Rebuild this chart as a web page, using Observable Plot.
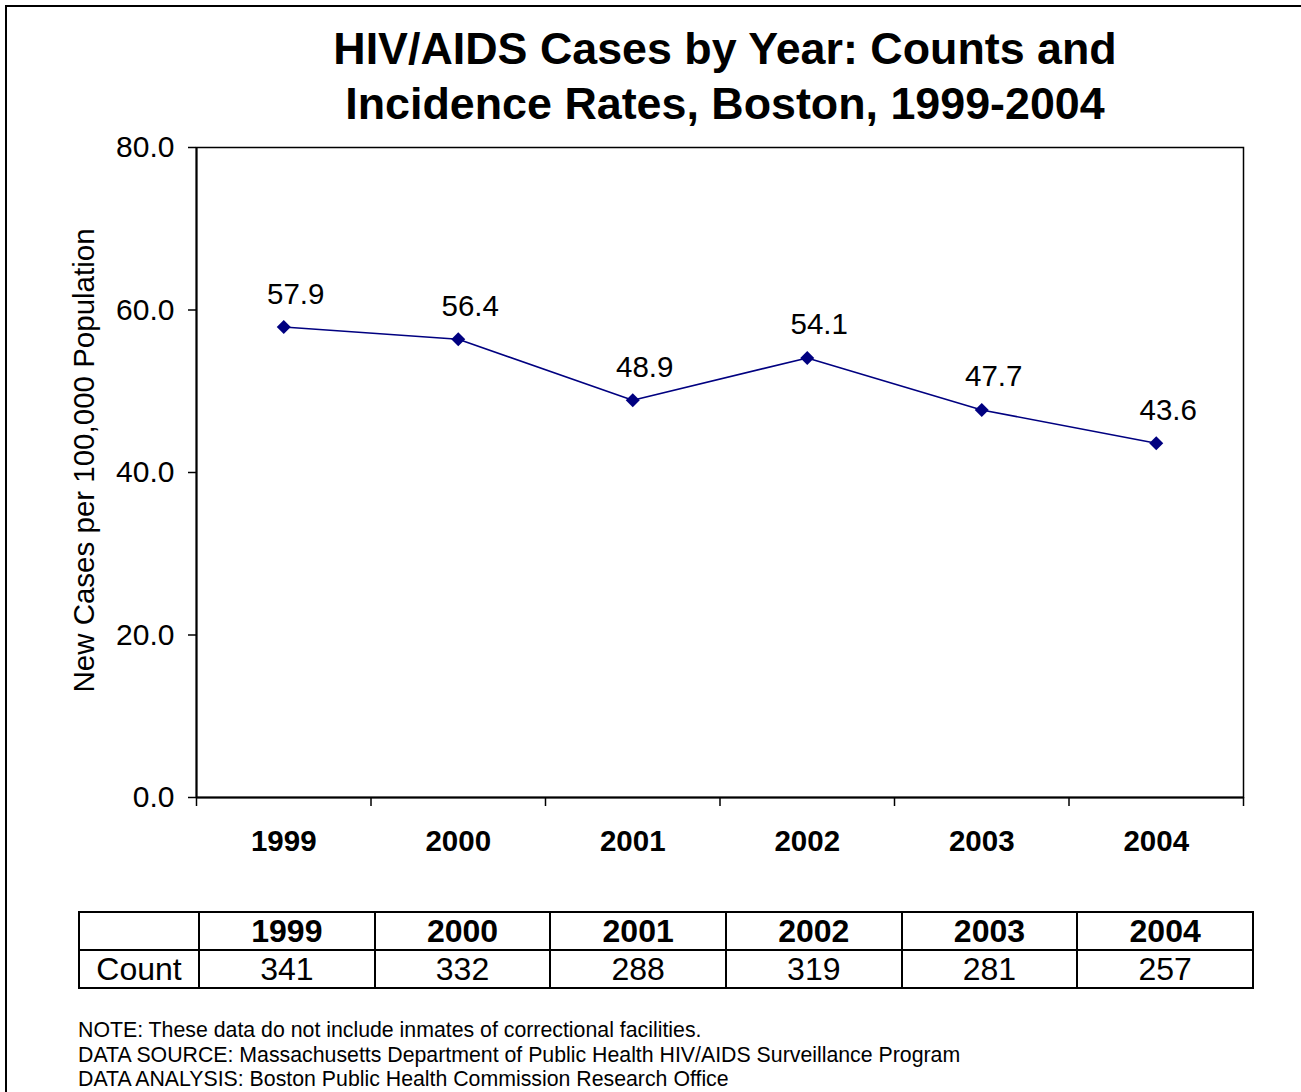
<!DOCTYPE html>
<html>
<head>
<meta charset="utf-8">
<script src="https://cdn.jsdelivr.net/npm/d3@7"></script>
<script src="https://cdn.jsdelivr.net/npm/@observablehq/plot@0.6"></script>
<style>
  html, body { margin: 0; padding: 0; background: #fff; overflow: hidden; width: 1301px; height: 1092px; }
  body { position: relative; font-family: "Liberation Sans", Arial, sans-serif; color: #000; }
  #border { position: absolute; left: 5px; top: 5px; width: 1400px; height: 1200px; border: 2px solid #000; box-sizing: border-box; }
  #title { position: absolute; left: 275px; width: 900px; top: 21px; text-align: center; font-weight: bold; font-size: 44.8px; line-height: 55px; }
  #chart { position: absolute; left: 0; top: 0; }
  #tbl { position: absolute; left: 78px; top: 911px; width: 1176px; border-collapse: collapse; font-size: 32px; table-layout: fixed; }
  #tbl td { border: 2px solid #000; height: 36px; padding: 0; text-align: center; line-height: 36px; }
  #tbl tr.head td { font-weight: bold; }
  #notes { position: absolute; left: 78px; top: 1018px; font-size: 21.3px; line-height: 24.5px; white-space: nowrap; }
</style>
</head>
<body>
<div id="border"></div>
<div id="title">HIV/AIDS Cases by Year: Counts and<br>Incidence Rates, Boston, 1999-2004</div>
<div id="chart"></div>
<table id="tbl"></table>
<div id="notes"></div>
<script>
const years = [1999, 2000, 2001, 2002, 2003, 2004];
const rates = [57.9, 56.4, 48.9, 54.1, 47.7, 43.6];
const counts = [341, 332, 288, 319, 281, 257];
const yTicks = [0, 20, 40, 60, 80];
const yLabel = "New Cases per 100,000 Population";
const rowLabel = "Count";
const notes = [
  "NOTE: These data do not include inmates of correctional facilities.",
  "DATA SOURCE: Massachusetts Department of Public Health HIV/AIDS Surveillance Program",
  "DATA ANALYSIS: Boston Public Health Commission Research Office"
];

const data = years.map((y, i) => ({year: y, rate: rates[i]}));
const boundaries = years.map(y => y - 0.5).concat([years[years.length - 1] + 0.5]);
const navy = "#000080";

const chart = Plot.plot({
  width: 1301,
  height: 880,
  marginLeft: 196,
  marginRight: 58,
  marginTop: 147,
  marginBottom: 83,
  style: {fontFamily: "'Liberation Sans', Arial, sans-serif", fontSize: "29px", color: "#000", background: "transparent"},
  x: {type: "linear", domain: [boundaries[0], boundaries[boundaries.length - 1]]},
  y: {domain: [0, 80]},
  marks: [
    Plot.frame({stroke: "#000", strokeWidth: 1.5}),
    Plot.ruleY([0], {stroke: "#000", strokeWidth: 2}),
    Plot.ruleX([boundaries[0]], {stroke: "#000", strokeWidth: 2}),
    Plot.axisY({ticks: yTicks, tickFormat: d => d.toFixed(1), tickSize: 8, tickPadding: 14, fontSize: 30, label: null, strokeWidth: 1.5}),
    Plot.axisX({ticks: boundaries, tickFormat: () => "", tickSize: 9, label: null, strokeWidth: 1.5}),
    Plot.text(years, {x: d => d, frameAnchor: "bottom", dy: 53, text: d => String(d), fontWeight: "bold", fontSize: 29.5}),
    Plot.text([yLabel], {frameAnchor: "left", textAnchor: "middle", rotate: -90, dx: -112, dy: -12, fontSize: 29.5}),
    Plot.line(data, {x: "year", y: "rate", stroke: navy, strokeWidth: 1.6}),
    Plot.dot(data, {x: "year", y: "rate", symbol: "diamond2", r: 6.3, fill: navy, stroke: null}),
    Plot.text(data, {x: "year", y: "rate", text: d => d.rate.toFixed(1), dx: 12, dy: -33, fontSize: 29.5})
  ]
});
document.getElementById("chart").appendChild(chart);

// table
const tbl = d3.select("#tbl");
tbl.append("colgroup").call(g => {
  g.append("col").style("width", "120px");
  years.forEach(() => g.append("col"));
});
const r1 = tbl.append("tr").attr("class", "head");
r1.append("td").text("");
years.forEach(y => r1.append("td").text(y));
const r2 = tbl.append("tr");
r2.append("td").text(rowLabel);
counts.forEach(c => r2.append("td").text(c));

d3.select("#notes").selectAll("div").data(notes).join("div").text(d => d);
</script>
</body>
</html>
